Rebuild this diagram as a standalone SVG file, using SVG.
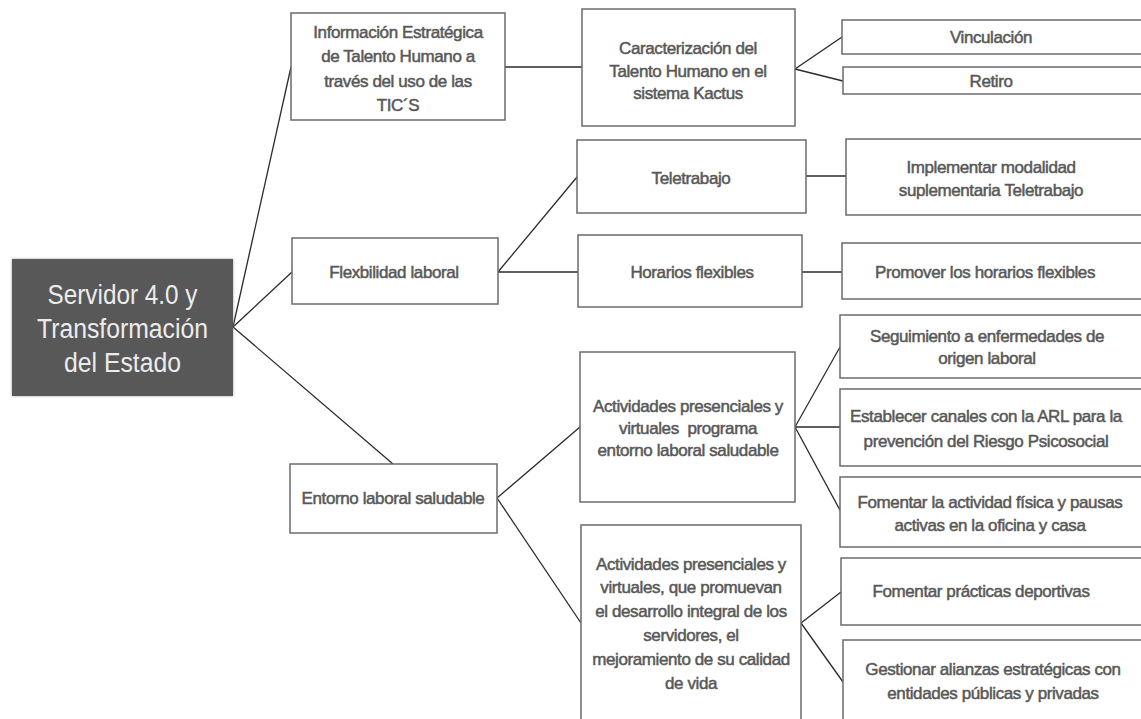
<svg xmlns="http://www.w3.org/2000/svg" width="1141" height="719" viewBox="0 0 1141 719">
<style>
.box{fill:#ffffff;stroke:#6b6b6b;stroke-width:1.5}
.t{font-family:"Liberation Sans",Arial,sans-serif;font-size:17px;letter-spacing:-0.4px;fill:#585858;stroke:#585858;stroke-width:0.5;text-anchor:middle}
.rt{font-family:"Liberation Sans",Arial,sans-serif;font-size:27px;fill:#ececec;text-anchor:middle}
.c{stroke:#2a2a2a;stroke-width:1.3;fill:none}
</style>
<defs>
<filter id="sh" x="-10%" y="-10%" width="120%" height="120%">
<feDropShadow dx="0" dy="0" stdDeviation="1.8" flood-color="#8c8c8c" flood-opacity="0.8"/>
</filter>
</defs>
<rect width="1141" height="719" fill="#ffffff"/>
<g id="connectors">
<line class="c" x1="233" y1="327" x2="291" y2="67"/>
<line class="c" x1="233" y1="327" x2="292" y2="272"/>
<line class="c" x1="233" y1="327" x2="393" y2="464"/>
<line class="c" x1="505" y1="67" x2="582" y2="67"/>
<line class="c" x1="795" y1="69" x2="842" y2="37"/>
<line class="c" x1="795" y1="69" x2="843" y2="81"/>
<line class="c" x1="498" y1="272" x2="577" y2="177"/>
<line class="c" x1="498" y1="272" x2="578" y2="272"/>
<line class="c" x1="806" y1="176" x2="846" y2="176"/>
<line class="c" x1="802" y1="272" x2="842" y2="272"/>
<line class="c" x1="497" y1="498" x2="580" y2="427"/>
<line class="c" x1="497" y1="498" x2="581" y2="623"/>
<line class="c" x1="795" y1="427" x2="840" y2="347"/>
<line class="c" x1="795" y1="427" x2="840" y2="427"/>
<line class="c" x1="795" y1="427" x2="841" y2="512"/>
<line class="c" x1="801" y1="623" x2="841" y2="592"/>
<line class="c" x1="801" y1="623" x2="843" y2="682"/>
</g>
<g id="root">
<rect x="12" y="259" width="221" height="137" fill="#595959" filter="url(#sh)"/>
<text class="rt" x="122.5" y="304" textLength="150" lengthAdjust="spacingAndGlyphs">Servidor 4.0 y</text>
<text class="rt" x="122.5" y="338" textLength="171" lengthAdjust="spacingAndGlyphs">Transformación</text>
<text class="rt" x="122.5" y="372" textLength="117" lengthAdjust="spacingAndGlyphs">del Estado</text>
</g>
<g id="info">
<rect class="box" x="291" y="13" width="214" height="107"/>
<text class="t" x="398" y="37.5">Información Estratégica</text>
<text class="t" x="398" y="62">de Talento Humano a</text>
<text class="t" x="398" y="86.5">través del uso de las</text>
<text class="t" x="398" y="111">TIC´S</text>
</g>
<g id="caracterizacion">
<rect class="box" x="582" y="9" width="213" height="117"/>
<text class="t" x="688" y="54">Caracterización del</text>
<text class="t" x="688" y="76.5">Talento Humano en el</text>
<text class="t" x="688" y="99">sistema Kactus</text>
</g>
<g id="vinculacion">
<rect class="box" x="842" y="20" width="310" height="34"/>
<text class="t" x="991" y="43">Vinculación</text>
</g>
<g id="retiro">
<rect class="box" x="843" y="67" width="310" height="27"/>
<text class="t" x="991" y="87">Retiro</text>
</g>
<g id="flexibilidad">
<rect class="box" x="292" y="238" width="206" height="66"/>
<text class="t" x="394" y="278">Flexbilidad laboral</text>
</g>
<g id="teletrabajo">
<rect class="box" x="577" y="140" width="229" height="73"/>
<text class="t" x="691" y="184">Teletrabajo</text>
</g>
<g id="implementar">
<rect class="box" x="846" y="139" width="310" height="76"/>
<text class="t" x="991" y="173">Implementar modalidad</text>
<text class="t" x="991" y="196">suplementaria Teletrabajo</text>
</g>
<g id="horarios">
<rect class="box" x="578" y="235" width="224" height="72"/>
<text class="t" x="692" y="278">Horarios flexibles</text>
</g>
<g id="promover">
<rect class="box" x="842" y="243" width="310" height="56"/>
<text class="t" x="985" y="278">Promover los horarios flexibles</text>
</g>
<g id="seguimiento">
<rect class="box" x="840" y="315" width="310" height="63"/>
<text class="t" x="987" y="342">Seguimiento a enfermedades de</text>
<text class="t" x="987" y="364">origen laboral</text>
</g>
<g id="establecer">
<rect class="box" x="840" y="389" width="310" height="77"/>
<text class="t" x="986" y="422">Establecer canales con la ARL para la</text>
<text class="t" x="986" y="447">prevención del Riesgo Psicosocial</text>
</g>
<g id="fomentar-actividad">
<rect class="box" x="840" y="477" width="310" height="70"/>
<text class="t" x="990" y="508">Fomentar la actividad física y pausas</text>
<text class="t" x="990" y="531">activas en la oficina y casa</text>
</g>
<g id="actividades-programa">
<rect class="box" x="580" y="352" width="215" height="150"/>
<text class="t" x="688" y="412">Actividades presenciales y</text>
<text class="t" x="688" y="434">virtuales&#160; programa</text>
<text class="t" x="688" y="456">entorno laboral saludable</text>
</g>
<g id="entorno">
<rect class="box" x="290" y="464" width="207" height="69"/>
<text class="t" x="393" y="504">Entorno laboral saludable</text>
</g>
<g id="actividades-desarrollo">
<rect class="box" x="581" y="525" width="220" height="210"/>
<text class="t" x="691" y="570">Actividades presenciales y</text>
<text class="t" x="691" y="593">virtuales, que promuevan</text>
<text class="t" x="691" y="617">el desarrollo integral de los</text>
<text class="t" x="691" y="641">servidores, el</text>
<text class="t" x="691" y="665">mejoramiento de su calidad</text>
<text class="t" x="691" y="689">de vida</text>
</g>
<g id="practicas">
<rect class="box" x="841" y="558" width="310" height="67"/>
<text class="t" x="981" y="597">Fomentar prácticas deportivas</text>
</g>
<g id="gestionar">
<rect class="box" x="843" y="640" width="310" height="90"/>
<text class="t" x="993" y="675">Gestionar alianzas estratégicas con</text>
<text class="t" x="993" y="699">entidades públicas y privadas</text>
</g>
</svg>
